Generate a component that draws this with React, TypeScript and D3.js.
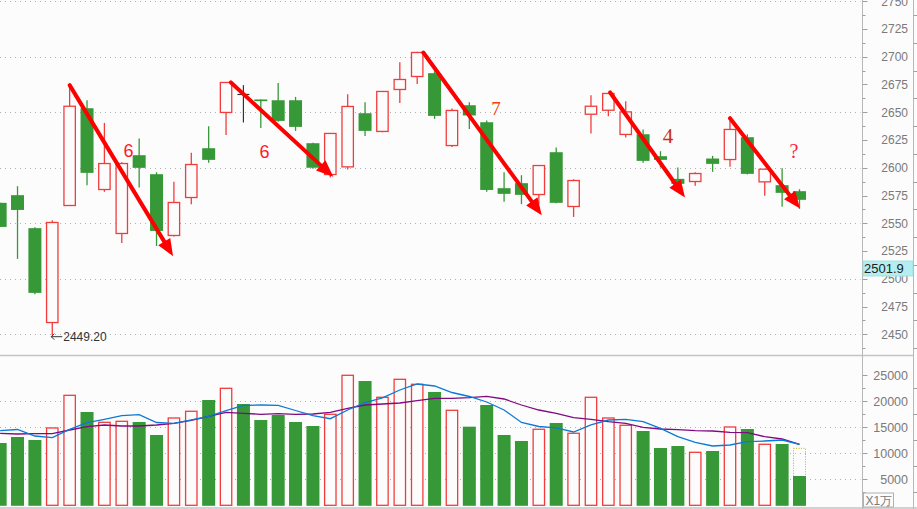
import React from 'react';
import * as d3 from 'd3';

// ---- data ----
const OPEN = [2568.4, 2575.3, 2545.6, 2460.6, 2566.0, 2653.6, 2580.4, 2540.8, 2611.3, 2594.2, 2539.0, 2573.2, 2617.6, 2649.8, 2666.0, 2661.5, 2660.8, 2660.8, 2622.1, 2593.9, 2600.8, 2649.1, 2632.7, 2670.5, 2682.2, 2685.2, 2620.0, 2656.3, 2641.0, 2581.6, 2586.1, 2575.9, 2614.0, 2565.1, 2648.2, 2651.8, 2630.0, 2630.2, 2610.4, 2590.0, 2587.6, 2608.3, 2607.4, 2627.5, 2587.3, 2584.3, 2578.9];
const HIGH = [2568.4, 2583.4, 2546.5, 2552.8, 2674.4, 2660.8, 2640.4, 2605.0, 2626.4, 2596.0, 2587.3, 2613.4, 2637.4, 2676.8, 2674.4, 2661.5, 2676.4, 2663.8, 2622.5, 2631.0, 2666.2, 2659.0, 2669.0, 2695.1, 2704.5, 2687.0, 2653.4, 2659.0, 2642.6, 2596.0, 2593.3, 2602.0, 2618.2, 2589.7, 2665.3, 2667.0, 2659.9, 2634.5, 2614.9, 2600.2, 2596.0, 2610.7, 2642.0, 2630.1, 2599.0, 2599.6, 2580.7];
const LOW = [2546.7, 2517.9, 2486.1, 2449.2, 2566.0, 2584.3, 2578.3, 2532.3, 2582.2, 2529.6, 2538.0, 2567.2, 2604.4, 2629.6, 2640.8, 2635.9, 2641.5, 2633.2, 2599.0, 2591.2, 2598.4, 2628.7, 2632.0, 2658.4, 2675.5, 2644.0, 2618.8, 2635.0, 2578.3, 2569.3, 2567.2, 2567.2, 2568.0, 2555.7, 2630.9, 2646.4, 2627.3, 2604.4, 2600.2, 2585.0, 2583.7, 2596.3, 2601.0, 2594.0, 2574.7, 2564.8, 2563.0];
const CLOSE = [2546.7, 2562.0, 2487.3, 2550.7, 2655.4, 2595.4, 2603.8, 2603.8, 2599.9, 2543.1, 2568.7, 2602.9, 2607.1, 2676.8, 2666.0, 2660.0, 2642.2, 2636.8, 2600.0, 2630.9, 2655.2, 2633.2, 2668.7, 2679.5, 2703.8, 2646.7, 2651.6, 2647.1, 2580.0, 2576.5, 2575.6, 2602.0, 2568.4, 2588.5, 2655.4, 2666.9, 2650.3, 2606.2, 2607.1, 2585.5, 2594.8, 2603.5, 2634.5, 2594.5, 2598.7, 2577.4, 2571.1];
const VOLUME = [11980, 13140, 12560, 14870, 21150, 17940, 15960, 16150, 16020, 13520, 16790, 18080, 20250, 22500, 19480, 16400, 17370, 16020, 15250, 17500, 25000, 23900, 20770, 24230, 23270, 21790, 18270, 15120, 19290, 13520, 12370, 14620, 15830, 13850, 20770, 16790, 15390, 14290, 11020, 11400, 10190, 10440, 15060, 14670, 11730, 11790, 5635];
const VOL_MA_FAST = [14346, 14577, 13327, 13000, 14615, 15885, 16538, 17231, 17423, 15923, 15769, 16442, 17115, 18192, 19192, 19288, 19231, 18231, 17231, 16654, 18327, 19769, 20654, 22173, 23327, 22942, 21692, 20923, 19865, 18327, 15923, 15154, 14904, 14096, 15481, 16404, 16538, 16077, 14808, 13192, 12115, 11404, 11596, 12231, 12365, 12558, 11731];
const VOL_MA_SLOW = [13846, 13712, 13769, 13769, 14481, 15115, 15442, 15250, 15250, 15442, 15769, 16346, 17115, 17885, 17692, 17500, 17615, 17500, 17558, 17885, 18654, 19288, 19481, 19673, 20115, 20577, 20577, 20692, 20962, 20442, 19288, 18327, 17692, 16846, 16538, 16077, 15769, 15000, 14673, 14538, 14346, 14288, 14038, 13962, 13192, 12750, 11731];
const PROJECTED_VOLUME = 10962;

const PRICE_LABELS = [2450, 2475, 2500, 2525, 2550, 2575, 2600, 2625, 2650, 2675, 2700, 2725, 2750];
const PRICE_GRID = [2450, 2500, 2550, 2600, 2650, 2700, 2750];
const VOLUME_LABELS = [5000, 10000, 15000, 20000, 25000];
const VOLUME_GRID = [5000, 10000, 15000, 20000];
const LAST_PRICE = '2501.9';
const LOW_INDEX = 3;
const LOW_TEXT = '2449.20';
const UNIT_TEXT = 'X1万';

// arrows: start (bar index, price) -> end (bar index, price)
const ARROW_X0 = [4, 13.28, 24.35, 35.1, 42.0];
const ARROW_P0 = [2674.4, 2676.8, 2703.8, 2667.8, 2644.6];
const ARROW_X1 = [9.95, 19.17, 31.17, 39.41, 46.03];
const ARROW_P1 = [2520.4, 2591.8, 2557.3, 2573.3, 2563.3];

const NOTE_TEXT = ['6', '6', '7', '4', '?'];
const NOTE_X = [7.39, 15.22, 28.53, 38.43, 45.68];
const NOTE_P = [2609.5, 2609.2, 2647.3, 2622.4, 2608.9];

// ---- styles ----
const W = 917;
const H = 509;
const AXIS_X = 862.5;
const RIGHT_X = 913.5;
const RED = '#f23c3c';
const GREEN = '#379837';
const BG = '#fcfcfc';
const AXIS_TEXT = '#7a7a7a';
const FONT = '"Liberation Sans", Arial, sans-serif';
const NOTE_STYLE = [
  { fill: '#ff1a2a', font: '"Liberation Sans", Arial, sans-serif', size: 18 },
  { fill: '#ff1a2a', font: '"Liberation Sans", Arial, sans-serif', size: 18 },
  { fill: '#f04010', font: '"Liberation Serif", "Times New Roman", serif', size: 19 },
  { fill: '#c83010', font: '"Liberation Serif", "Times New Roman", serif', size: 21 },
  { fill: '#ff2040', font: '"Liberation Serif", "Times New Roman", serif', size: 20 },
];

export default function App() {
  const n = OPEN.length;
  const x = d3.scaleLinear().domain([0, n - 1]).range([0.14, 799.5]);
  const yP = d3.scaleLinear().domain([2450, 2750]).range([334.3, 1.2]);
  const yV = d3.scaleLinear().domain([0, 25000]).range([505.3, 375.3]);

  const lineGen = d3
    .line<number>()
    .x((_, i) => x(i))
    .y((d) => yV(d));

  const priceMinor = d3.range(2450 - 12.5, 2750 + 12.5, 25).filter((v) => yP(v) > 0 && yP(v) < 354);
  const volMinor = d3.range(2500, 27500, 5000).filter((v) => yV(v) > 356);

  const candles = OPEN.map((o, i) => {
    const c = CLOSE[i];
    const h = HIGH[i];
    const l = LOW[i];
    const cx = x(i);
    if (c === o) {
      return (
        <g key={i} stroke="#333" strokeWidth={1.2}>
          <line x1={cx} x2={cx} y1={yP(h)} y2={yP(l)} />
          <line x1={cx - 6} x2={cx + 6} y1={yP(o)} y2={yP(o)} />
        </g>
      );
    }
    if (c > o) {
      const top = yP(c);
      const bot = yP(o);
      return (
        <g key={i} stroke={RED} strokeWidth={1.3}>
          {h > c && <line x1={cx} x2={cx} y1={yP(h)} y2={top} />}
          {l < o && <line x1={cx} x2={cx} y1={bot} y2={yP(l)} />}
          <rect x={cx - 5.7} y={top} width={11.4} height={bot - top} fill={BG} />
        </g>
      );
    }
    const top = yP(o);
    const bot = yP(c);
    return (
      <g key={i}>
        <line x1={cx} x2={cx} y1={yP(h)} y2={yP(l)} stroke={GREEN} strokeWidth={1.3} />
        <rect x={cx - 6.5} y={top} width={13} height={Math.max(1.7, bot - top)} fill={GREEN} />
      </g>
    );
  });

  const volumes = VOLUME.map((v, i) => {
    const cx = x(i);
    const up = CLOSE[i] > OPEN[i];
    const top = yV(v);
    const base = yV(0);
    if (up) {
      return (
        <rect key={i} x={cx - 5.7} y={top} width={11.4} height={base - top} fill={BG} stroke={RED} strokeWidth={1.3} />
      );
    }
    return <rect key={i} x={cx - 6.5} y={top} width={13} height={base - top + 0.5} fill={GREEN} />;
  });

  const arrows = ARROW_X0.map((_, k) => {
    const x0 = x(ARROW_X0[k]);
    const y0 = yP(ARROW_P0[k]);
    const x1 = x(ARROW_X1[k]);
    const y1 = yP(ARROW_P1[k]);
    const dx = x1 - x0;
    const dy = y1 - y0;
    const len = Math.hypot(dx, dy);
    const ux = dx / len;
    const uy = dy / len;
    const L = 17;
    const hw = 7;
    const bx = x1 - ux * L;
    const by = y1 - uy * L;
    const pts = [
      [x1, y1],
      [bx - uy * hw, by + ux * hw],
      [bx + uy * hw, by - ux * hw],
    ]
      .map((p) => p.join(','))
      .join(' ');
    return (
      <g key={k}>
        <line x1={x0} y1={y0} x2={bx + ux * 3} y2={by + uy * 3} stroke="#ff0000" strokeWidth={4} strokeLinecap="round" />
        <polygon points={pts} fill="#ff0000" />
      </g>
    );
  });

  const lowX = x(LOW_INDEX);
  const lowY = yP(LOW[LOW_INDEX]) + 1.5;

  return (
    <svg
      width={W}
      height={H}
      style={{ position: 'absolute', left: 0, top: 0, background: BG, fontFamily: FONT }}
    >
      <rect x={0} y={0} width={W} height={H} fill={BG} />
      {/* grid */}
      <g stroke="#b0b0b0" strokeWidth={1} strokeDasharray="1,4">
        {PRICE_GRID.map((p) => (
          <line key={p} x1={0} x2={AXIS_X - 2} y1={Math.round(yP(p)) + 0.5} y2={Math.round(yP(p)) + 0.5} />
        ))}
        {VOLUME_GRID.map((v) => (
          <line key={v} x1={0} x2={AXIS_X - 2} y1={Math.round(yV(v)) + 0.5} y2={Math.round(yV(v)) + 0.5} />
        ))}
      </g>

      {/* candles */}
      {candles}

      {/* volume */}
      <rect
        x={x(n - 1) - 6}
        y={yV(PROJECTED_VOLUME)}
        width={12}
        height={yV(0) - yV(PROJECTED_VOLUME)}
        fill="none"
        stroke="#c8b400"
        strokeWidth={1}
        strokeDasharray="1,1.5"
      />
      {volumes}
      <path d={lineGen(VOL_MA_SLOW) || ''} fill="none" stroke="#800a80" strokeWidth={1.3} />
      <path d={lineGen(VOL_MA_FAST) || ''} fill="none" stroke="#0a7ad6" strokeWidth={1.3} />

      {/* low marker */}
      <g stroke="#333" strokeWidth={1} fill="none">
        <line x1={lowX - 1} x2={lowX + 10} y1={lowY} y2={lowY} />
        <polyline points={`${lowX + 2},${lowY - 3} ${lowX - 1},${lowY} ${lowX + 2},${lowY + 3}`} />
      </g>
      <text x={lowX + 11} y={lowY + 4.5} fontSize={12} fill="#333">
        {LOW_TEXT}
      </text>

      {/* arrows and notes */}
      {arrows}
      {NOTE_TEXT.map((t, k) => (
        <text
          key={k}
          x={x(NOTE_X[k])}
          y={yP(NOTE_P[k])}
          textAnchor="middle"
          fill={NOTE_STYLE[k].fill}
          fontFamily={NOTE_STYLE[k].font}
          fontSize={NOTE_STYLE[k].size}
        >
          {t}
        </text>
      ))}

      {/* panel frame */}
      <rect x={AXIS_X} y={0} width={W - AXIS_X} height={H} fill={BG} />
      <line x1={0} x2={RIGHT_X} y1={355.5} y2={355.5} stroke="#c4c4c4" strokeWidth={1.5} />
      <line x1={0} x2={W} y1={508} y2={508} stroke="#c4c4c4" strokeWidth={1.5} />
      <line x1={AXIS_X} x2={AXIS_X} y1={0} y2={H} stroke="#b8b8b8" strokeWidth={1} />
      <line x1={RIGHT_X} x2={RIGHT_X} y1={0} y2={H} stroke="#b8b8b8" strokeWidth={1} />

      {/* price axis */}
      <g stroke="#a0a0a0" strokeWidth={1}>
        {PRICE_LABELS.map((p) => (
          <line key={p} x1={AXIS_X} x2={AXIS_X + 5} y1={Math.round(yP(p)) + 0.5} y2={Math.round(yP(p)) + 0.5} />
        ))}
        {priceMinor.map((p) => (
          <line key={p} x1={AXIS_X} x2={AXIS_X + 3} y1={Math.round(yP(p)) + 0.5} y2={Math.round(yP(p)) + 0.5} />
        ))}
        {VOLUME_LABELS.map((v) => (
          <line key={v} x1={AXIS_X} x2={AXIS_X + 5} y1={Math.round(yV(v)) + 0.5} y2={Math.round(yV(v)) + 0.5} />
        ))}
        {volMinor.map((v) => (
          <line key={v} x1={AXIS_X} x2={AXIS_X + 3} y1={Math.round(yV(v)) + 0.5} y2={Math.round(yV(v)) + 0.5} />
        ))}
        {priceMinor.map((p) => (
          <line key={'r' + p} x1={RIGHT_X} x2={W} y1={Math.round(yP(p)) + 0.5} y2={Math.round(yP(p)) + 0.5} />
        ))}
        {volMinor.map((v) => (
          <line key={'r' + v} x1={RIGHT_X} x2={W} y1={Math.round(yV(v)) + 0.5} y2={Math.round(yV(v)) + 0.5} />
        ))}
      </g>
      <g fill={AXIS_TEXT} textAnchor="end">
        {PRICE_LABELS.map((p) => (
          <text key={p} x={908} y={yP(p)} dy="0.36em" fontSize={12}>
            {p}
          </text>
        ))}
        {VOLUME_LABELS.map((v) => (
          <text key={v} x={908} y={yV(v)} dy="0.36em" fontSize={12.5}>
            {v}
          </text>
        ))}
      </g>

      {/* last price tag */}
      <rect x={AXIS_X + 0.5} y={261} width={RIGHT_X - AXIS_X - 1} height={15} fill="#b4eef0" stroke="#9adcdc" strokeWidth={0.8} />
      <text x={AXIS_X + 1.5} y={273} fontSize={13} fill="#202020">
        {LAST_PRICE}
      </text>

      {/* unit box */}
      <rect x={AXIS_X + 1} y={493} width={30} height={14} fill={BG} stroke="#b0b0b0" strokeWidth={1} />
      <text x={AXIS_X + 3} y={505} fontSize={12} fill={AXIS_TEXT}>
        {UNIT_TEXT}
      </text>
    </svg>
  );
}
